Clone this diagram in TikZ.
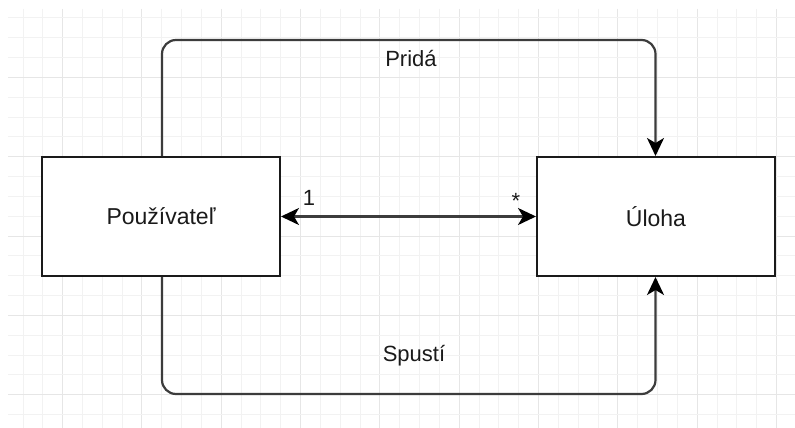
\documentclass[tikz,border=0pt]{standalone}
\usepackage{fontspec}
\setmainfont{Liberation Sans}
\usetikzlibrary{arrows.meta}
\definecolor{gridminor}{HTML}{F2F2F2}
\definecolor{gridmajor}{HTML}{E6E6E6}
\definecolor{ink}{HTML}{1A1A1A}
\tikzset{
  relTip/.tip={Stealth[length=18pt, width=17pt, inset=5pt, color=black]},
  entity/.style={draw=ink, line width=2pt, fill=white, minimum width=238pt,
    minimum height=119pt, inner sep=0pt, font=\fontsize{23}{26}\selectfont, text=ink},
  relation/.style={draw=ink!85, line width=2.2pt, rounded corners=14pt},
  label/.style={font=\fontsize{22}{26}\selectfont, text=ink, inner sep=0pt},
}
\begin{document}
\begin{tikzpicture}[x=1pt, y=-1pt]
  % canvas
  \fill[white] (0,0) rectangle (795,428);
  \useasboundingbox (0,0) rectangle (795,428);
  % background grid
  \begin{scope}
    \clip (8,9) rectangle (795,428);
    \foreach \i in {0,...,39} {
      \pgfmathsetmacro{\gx}{23+19.83*\i}
      \pgfmathtruncatemacro{\major}{mod(\i+2,4)==0}
      \ifnum\major=1
        \draw[gridmajor, line width=1pt] (\gx,9) -- (\gx,428);
      \else
        \draw[gridminor, line width=1pt] (\gx,9) -- (\gx,428);
      \fi
    }
    \foreach \j in {0,...,20} {
      \pgfmathsetmacro{\gy}{18+19.83*\j}
      \pgfmathtruncatemacro{\major}{mod(\j+1,4)==0}
      \ifnum\major=1
        \draw[gridmajor, line width=1pt] (8,\gy) -- (795,\gy);
      \else
        \draw[gridminor, line width=1pt] (8,\gy) -- (795,\gy);
      \fi
    }
  \end{scope}

  % entities
  \node[entity] (user) at (161,216.5) {Používateľ};
  \node[entity] (task) at (656,216.5) {Úloha};

  % corner points of the routed relations
  \coordinate (topL) at (162,40);
  \coordinate (topR) at (655.5,40);
  \coordinate (botL) at (162,394);
  \coordinate (botR) at (655.5,394);

  % relations
  \draw[relation, -relTip] (user.north -| topL) -- (topL) -- (topR) -- (task.north -| topR);
  \draw[relation, -relTip] (user.south -| botL) -- (botL) -- (botR) -- (task.south -| botR);
  \draw[relation, relTip-relTip] (user.east) -- (task.west);

  % labels
  \node[label] (add) at (411,59) {Pridá};
  \node[label] (run) at (414,356) {Spustí};
  \node[label, anchor=base] (one) at (309,205) {1};
  \node[label, anchor=base] (many) at (516,208) {*};
\end{tikzpicture}
\end{document}
